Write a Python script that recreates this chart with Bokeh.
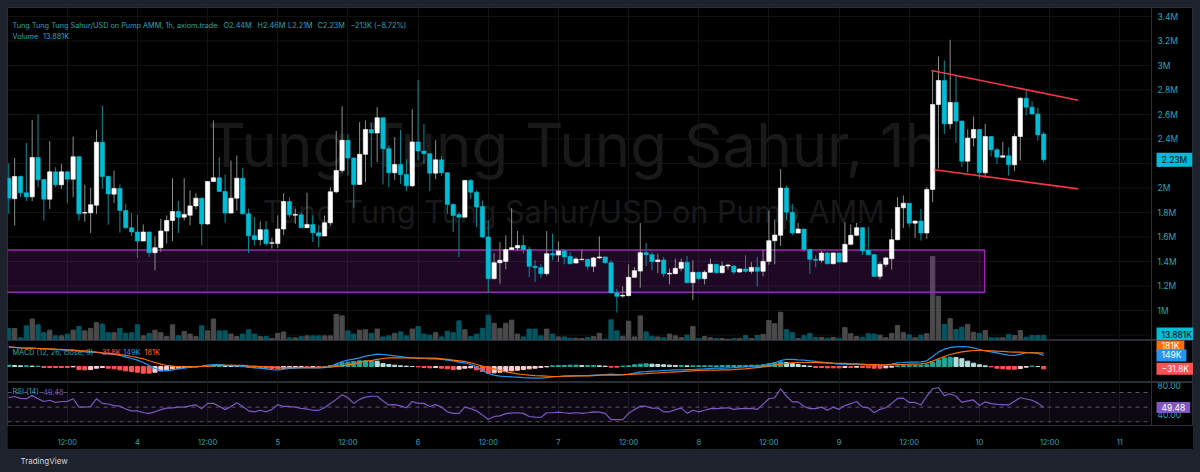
from bokeh.plotting import figure
from bokeh.layouts import column
from bokeh.models import (Range1d, FixedTicker, Label, ColumnDataSource, Span, BoxAnnotation)
from bokeh.core.properties import value
from bokeh.embed import file_html
from bokeh.resources import INLINE

# ---------------- data (hourly candles, prices in millions) ----------------
opens = [2.080, 1.912, 2.094, 1.961, 1.928, 2.249, 2.069, 1.909, 2.132, 2.026,
         2.132, 2.072, 2.255, 1.795, 1.797, 1.860, 2.373, 2.094, 1.950, 1.996,
         1.816, 1.676, 1.641, 1.567, 1.641, 1.472, 1.513, 1.649, 1.735, 1.808,
         1.762, 1.778, 1.854, 1.917, 1.706, 2.053, 2.083, 1.971, 1.795, 1.917,
         2.080, 1.789, 1.611, 1.578, 1.660, 1.548, 1.546, 1.665, 1.890, 1.778,
         1.781, 1.676, 1.703, 1.635, 1.608, 1.716, 1.969, 2.143, 2.389, 2.245,
         2.029, 2.275, 2.478, 2.449, 2.573, 2.321, 2.124, 2.192, 2.110, 2.018,
         2.376, 2.302, 2.280, 2.121, 2.230, 2.124, 1.865, 1.784, 1.762, 2.061,
         1.966, 1.849, 1.600, 1.260, 1.390, 1.401, 1.498, 1.510, 1.531, 1.498,
         1.361, 1.350, 1.301, 1.464, 1.453, 1.486, 1.442, 1.388, 1.415, 1.418,
         1.361, 1.429, 1.437, 1.390, 1.143, 1.118, 1.121, 1.271, 1.322, 1.472,
         1.456, 1.399, 1.412, 1.298, 1.301, 1.344, 1.393, 1.227, 1.312, 1.260,
         1.312, 1.377, 1.309, 1.363, 1.363, 1.314, 1.339, 1.320, 1.352, 1.320,
         1.401, 1.570, 1.614, 1.999, 1.803, 1.633, 1.665, 1.498, 1.418, 1.410,
         1.469, 1.382, 1.469, 1.396, 1.540, 1.614, 1.676, 1.491, 1.456, 1.279,
         1.377, 1.423, 1.578, 1.838, 1.876, 1.713, 1.730, 1.633, 1.988, 2.682,
         2.878, 2.524, 2.698, 2.546, 2.219, 2.408, 2.478, 2.124, 2.420, 2.312,
         2.252, 2.263, 2.190, 2.420, 2.733, 2.660, 2.605, 2.44]
highs = [2.202, 2.246, 2.102, 2.367, 2.556, 2.600, 2.075, 2.384, 2.170, 2.197,
         2.135, 2.421, 2.260, 2.026, 2.002, 2.475, 2.673, 2.102, 2.143, 2.029,
         1.871, 1.797, 1.781, 1.703, 1.643, 1.605, 1.748, 1.776, 2.080, 1.893,
         2.080, 1.980, 1.958, 1.920, 2.056, 2.551, 2.252, 2.110, 2.224, 2.265,
         2.162, 1.830, 1.762, 1.727, 1.730, 1.592, 1.776, 1.958, 1.925, 1.830,
         1.803, 1.961, 1.776, 1.695, 1.776, 2.007, 2.465, 2.668, 2.438, 2.252,
         2.537, 2.551, 2.537, 2.660, 2.575, 2.348, 2.416, 2.475, 2.235, 2.643,
         2.883, 2.524, 2.282, 2.389, 2.260, 2.129, 1.876, 1.803, 2.067, 2.075,
         1.980, 1.898, 1.735, 1.469, 1.559, 1.614, 1.835, 1.649, 1.614, 1.521,
         1.410, 1.377, 1.649, 1.627, 1.565, 1.497, 1.478, 1.437, 1.497, 1.420,
         1.437, 1.605, 1.442, 1.410, 1.178, 1.197, 1.377, 1.355, 1.714, 1.551,
         1.478, 1.464, 1.437, 1.342, 1.423, 1.423, 1.445, 1.410, 1.314, 1.327,
         1.423, 1.380, 1.399, 1.382, 1.369, 1.342, 1.451, 1.396, 1.437, 1.497,
         1.816, 1.743, 2.156, 2.020, 1.871, 1.716, 1.667, 1.505, 1.451, 1.486,
         1.478, 1.478, 1.471, 1.721, 1.703, 1.714, 1.678, 1.682, 1.464, 1.396,
         1.437, 1.668, 1.925, 1.939, 1.878, 1.735, 1.830, 2.007, 2.959, 3.073,
         3.041, 3.210, 2.918, 2.551, 2.478, 2.582, 2.483, 2.524, 2.422, 2.328,
         2.378, 2.333, 2.442, 2.741, 2.796, 2.709, 2.655, 2.46]
lows = [1.789, 1.695, 1.925, 1.893, 1.893, 2.007, 1.735, 1.830, 2.007, 1.991,
        1.876, 1.925, 1.735, 1.724, 1.633, 1.789, 1.993, 1.701, 1.876, 1.635,
        1.668, 1.608, 1.431, 1.565, 1.437, 1.327, 1.478, 1.546, 1.567, 1.633,
        1.735, 1.695, 1.827, 1.531, 1.701, 2.048, 1.966, 1.716, 1.793, 1.816,
        1.787, 1.469, 1.531, 1.531, 1.529, 1.505, 1.510, 1.614, 1.762, 1.708,
        1.673, 1.673, 1.559, 1.518, 1.606, 1.695, 1.958, 2.124, 2.102, 1.838,
        2.027, 2.048, 2.170, 2.211, 2.029, 2.007, 2.067, 2.034, 1.974, 2.007,
        2.224, 2.197, 1.974, 2.072, 2.102, 1.789, 1.641, 1.437, 1.760, 1.912,
        1.682, 1.595, 1.143, 1.254, 1.218, 1.336, 1.497, 1.486, 1.464, 1.273,
        1.233, 1.268, 1.284, 1.410, 1.396, 1.377, 1.377, 1.382, 1.410, 1.333,
        1.314, 1.420, 1.382, 1.140, 0.983, 1.105, 1.116, 1.268, 1.186, 1.363,
        1.327, 1.306, 1.273, 1.213, 1.295, 1.320, 1.224, 1.084, 1.246, 1.213,
        1.309, 1.301, 1.301, 1.333, 1.295, 1.309, 1.309, 1.301, 1.197, 1.279,
        1.374, 1.377, 1.527, 1.740, 1.614, 1.630, 1.478, 1.301, 1.355, 1.390,
        1.377, 1.377, 1.390, 1.390, 1.531, 1.608, 1.453, 1.451, 1.273, 1.254,
        1.355, 1.333, 1.573, 1.675, 1.680, 1.593, 1.571, 1.585, 1.884, 2.158,
        2.442, 2.483, 2.369, 2.170, 2.129, 2.339, 2.075, 2.080, 2.258, 2.197,
        2.244, 2.102, 2.137, 2.224, 2.592, 2.600, 2.387, 2.21]
closes = [1.917, 2.094, 1.961, 1.928, 2.249, 2.067, 1.909, 2.132, 2.026, 2.132,
          2.072, 2.255, 1.789, 1.799, 1.863, 2.373, 2.094, 1.952, 1.996, 1.816,
          1.676, 1.641, 1.567, 1.641, 1.472, 1.513, 1.649, 1.735, 1.808, 1.762,
          1.784, 1.854, 1.917, 1.706, 2.053, 2.083, 1.971, 1.795, 1.917, 2.080,
          1.789, 1.611, 1.578, 1.660, 1.546, 1.554, 1.665, 1.890, 1.781, 1.784,
          1.676, 1.703, 1.635, 1.608, 1.716, 1.969, 2.143, 2.389, 2.245, 2.029,
          2.275, 2.478, 2.449, 2.573, 2.321, 2.124, 2.192, 2.110, 2.018, 2.376,
          2.302, 2.280, 2.121, 2.230, 2.124, 1.865, 1.776, 1.762, 2.061, 1.966,
          1.844, 1.600, 1.260, 1.390, 1.410, 1.498, 1.513, 1.531, 1.498, 1.361,
          1.350, 1.301, 1.464, 1.453, 1.486, 1.437, 1.382, 1.420, 1.418, 1.361,
          1.429, 1.437, 1.390, 1.143, 1.116, 1.124, 1.271, 1.325, 1.472, 1.456,
          1.399, 1.412, 1.301, 1.304, 1.344, 1.393, 1.227, 1.312, 1.260, 1.312,
          1.377, 1.309, 1.363, 1.371, 1.314, 1.339, 1.320, 1.352, 1.320, 1.401,
          1.570, 1.616, 1.999, 1.803, 1.633, 1.665, 1.498, 1.418, 1.410, 1.469,
          1.382, 1.469, 1.396, 1.540, 1.614, 1.676, 1.486, 1.456, 1.279, 1.377,
          1.429, 1.578, 1.841, 1.876, 1.713, 1.730, 1.633, 1.988, 2.682, 2.878,
          2.524, 2.698, 2.546, 2.219, 2.408, 2.478, 2.124, 2.420, 2.312, 2.252,
          2.263, 2.190, 2.420, 2.733, 2.660, 2.605, 2.433, 2.23]
volume_k = [33.6, 33.6, 7.6, 41, 60, 44, 22, 29, 13, 13, 18, 29, 39, 27, 34, 50, 46, 22, 22, 34,
            20, 22, 44, 13, 20, 29, 22, 11, 44, 13, 25, 18, 11, 41, 27, 60, 27, 27, 18, 11,
            18, 30, 18, 11, 11, 6, 20, 24, 7.6, 7.6, 11, 13, 13, 13, 13, 13, 73, 69, 27,
            18, 29, 30, 20, 32, 10, 13, 20, 24, 13, 32, 39, 18, 15, 22, 10, 26, 22, 55, 30,
            11, 18, 34, 71, 48, 34, 48, 57, 18, 10, 32, 32, 13, 32, 18, 10, 10, 6.4, 6.4, 5.6,
            8.4, 11, 20, 3.6, 58, 27, 12, 54, 10, 69, 24, 12, 10, 7.6, 18, 13, 8.4, 15, 39, 5.6,
            11, 7.6, 5.6, 5.6, 3.6, 5.6, 5.6, 14, 5.6, 14, 17, 56, 47, 79, 30, 22, 5.6, 14, 20,
            8.4, 8.4, 6.4, 8.4, 6.4, 36, 19, 11, 9.2, 19, 18, 15, 7.6, 20, 42, 22, 16, 7.6, 15,
            19, 235, 124, 45, 61, 31, 37, 45, 23, 20, 28, 7.6, 7.6, 7.6, 17, 14, 28, 9.2, 14,
            14, 13.881]
macd_k = [266, 257, 252, 248, 248, 243, 239, 234, 230, 225, 221, 221, 207, 198, 194, 189, 180, 171, 162, 149,
          126, 108, 86, 54, 14, -27, -54, -59, -45, -32, -23, -9, 0, 5, 18, 27, 27, 18, 14, 9,
          0, -9, -18, -23, -32, -41, -45, -36, -27, -23, -18, -18, -18, -18, -14, 0, 32, 68, 86, 99,
          117, 140, 153, 167, 162, 153, 144, 135, 122, 117, 113, 108, 104, 104, 95, 86, 77, 59, 50, 27,
          -5, -54, -95, -117, -131, -135, -140, -144, -149, -153, -158, -158, -149, -140, -135, -131, -126, -126, -122, -122,
          -117, -113, -108, -104, -108, -108, -104, -90, -72, -68, -63, -59, -54, -50, -45, -45, -41, -41, -36, -32,
          -27, -23, -23, -18, -14, -9, -5, 0, 5, 14, 32, 50, 81, 95, 95, 90, 86, 77, 68, 59,
          50, 41, 32, 32, 27, 27, 23, 18, 14, 14, 18, 32, 50, 54, 59, 59, 63, 77, 135, 194,
          234, 257, 266, 270, 266, 252, 230, 212, 198, 185, 167, 153, 149, 167, 185, 189, 176, 149]
signal_k = [261, 257, 252, 248, 248, 243, 243, 239, 234, 230, 225, 221, 216, 212, 203, 194, 185, 180, 171, 162,
            149, 135, 122, 104, 77, 54, 32, 14, 5, -5, -5, -5, -5, 0, 5, 9, 14, 14, 14, 14,
            14, 9, 5, 0, -5, -9, -14, -14, -14, -14, -14, -14, -14, -14, -9, -9, 0, 9, 23, 36,
            59, 72, 81, 95, 108, 117, 117, 117, 117, 117, 113, 113, 113, 113, 104, 95, 86, 77, 68, 50,
            27, 5, -14, -32, -54, -72, -86, -99, -108, -117, -122, -126, -131, -135, -135, -131, -131, -126, -126, -126,
            -122, -117, -117, -117, -117, -113, -108, -104, -99, -95, -90, -86, -81, -77, -72, -68, -63, -59, -54, -50,
            -50, -50, -45, -45, -41, -36, -32, -23, -14, -5, 5, 18, 32, 41, 50, 54, 54, 54, 54, 50,
            50, 45, 41, 41, 36, 36, 32, 27, 27, 23, 23, 23, 27, 27, 32, 32, 36, 45, 72, 104,
            135, 162, 180, 198, 207, 216, 216, 216, 212, 207, 203, 198, 194, 194, 189, 185, 185, 181]
hist_k = [18, 14, 9, 9, 5, 5, -14, -14, -14, -14, -14, -5, -41, -45, -41, -23, -14, -23, -32, -45,
          -59, -68, -77, -90, -90, -77, -59, -45, -32, -23, -14, -9, -5, 0, 5, 14, 18, 14, 9, 5,
          0, -9, -14, -18, -23, -27, -27, -23, -18, -14, -9, -9, -5, -5, 0, 14, 32, 50, 59, 68,
          77, 77, 81, 72, 41, 27, 18, 9, 5, 0, -5, -14, -18, -14, -23, -32, -41, -36, -23, -18,
          -45, -68, -90, -86, -77, -68, -59, -50, -41, -32, -23, -14, -5, 9, 14, 14, 18, 18, 14, 14,
          14, 9, 5, -9, -9, 5, 9, 23, 32, 36, 32, 27, 23, 18, 14, 14, 9, 9, 9, 9,
          9, 9, 14, 14, 14, 14, 14, 18, 18, 23, 36, 50, 63, 54, 41, 27, 14, 5, -14, -14,
          -18, -18, -18, -14, -14, -9, -14, -18, -23, -23, -18, -9, 9, 14, 18, 18, 18, 23, 54, 90,
          117, 126, 122, 104, 72, 45, 23, 9, -5, -23, -32, -36, -36, -27, -9, 5, 0, -31.8]
rsi = [62.8, 64.5, 61.9, 61.5, 65.7, 61.5, 57.7, 59.4, 56.4, 57.7, 57.7, 61.5, 50.0, 50.0, 50.9, 61.5, 55.1, 54.3, 52.1, 51.3,
       47.4, 44.9, 44.9, 42.3, 41.5, 43.6, 46.6, 48.7, 49.1, 50.0, 50.0, 51.7, 53.0, 47.9, 55.1, 55.1, 51.3, 46.6, 50.9, 56.0,
       50.9, 44.9, 43.6, 45.7, 43.6, 46.6, 53.4, 50.9, 50.9, 50.0, 48.3, 47.4, 45.7, 45.7, 49.1, 55.1, 60.6, 67.0, 62.8, 55.1,
       60.6, 63.6, 64.9, 64.9, 58.5, 53.0, 53.4, 51.7, 49.1, 57.7, 55.1, 55.1, 50.9, 53.4, 50.0, 43.6, 41.5, 41.5, 50.0, 47.9,
       44.9, 39.4, 33.0, 37.2, 38.1, 41.1, 41.9, 42.3, 41.5, 37.2, 36.4, 36.0, 42.3, 42.3, 43.2, 42.3, 41.5, 42.3, 41.5, 42.3,
       43.6, 43.2, 41.5, 33.0, 33.0, 33.0, 41.5, 46.6, 51.3, 50.9, 48.7, 48.7, 43.6, 43.6, 46.6, 48.7, 41.5, 45.7, 43.6, 45.7,
       47.9, 47.9, 48.7, 49.1, 47.0, 47.9, 47.9, 48.3, 47.0, 53.8, 61.5, 62.8, 75.1, 64.9, 57.2, 57.2, 50.9, 47.9, 47.9, 50.0,
       45.7, 50.0, 47.0, 52.1, 54.7, 57.7, 50.0, 49.1, 42.3, 47.0, 49.1, 55.1, 61.9, 62.3, 56.4, 56.4, 53.0, 64.9, 75.1, 76.8,
       65.7, 68.3, 64.9, 56.4, 58.5, 59.8, 52.1, 57.2, 54.7, 53.8, 53.4, 53.0, 58.1, 62.8, 61.1, 59.4, 55.5, 49.48]

price_ticks = [0.8, 1.0, 1.2, 1.4, 1.6, 1.8, 2.0, 2.2, 2.4, 2.6, 2.8, 3.0, 3.2, 3.4]
time_ticks = [10, 22, 34, 46, 58, 70, 82, 94, 106, 118, 130, 142, 154, 166, 178, 190]
time_labels = ["12:00", "4", "12:00", "5", "12:00", "6", "12:00", "7",
               "12:00", "8", "12:00", "9", "12:00", "10", "12:00", "11"]
rsi_ticks = [40, 80]
rsi_bands = [70, 50, 30]
# support zone and the falling channel (candle index, price in M)
zone_left, zone_right, zone_top, zone_bottom = -5, 166.9, 1.494, 1.149
chan_upper_x, chan_upper_y = [157.8, 182.9], [2.959, 2.717]
chan_lower_x, chan_lower_y = [158.3, 182.9], [2.149, 1.993]

title_text = "Tung Tung Tung Sahur/USD on Pump AMM, 1h, axiom.trade"
ohlc_parts = ["O2.44M", "H2.46M", "L2.21M", "C2.23M", "\u2212213K (\u22128.72%)"]

# ---------------- styling / geometry ----------------
PAGE = "#1e222d"
BG = "#000000"
SEP = "#2a2e39"
GRID = "#121212"
TXT = "#2aa5b9"
WATER = "#191919"
UP, DOWN = "#ffffff", "#00bcd4"
UP_WICK, DOWN_WICK = "#8c8c8c", "#0a8c9c"
VOL_UP, VOL_DOWN = "#4a4a4a", "#045560"
FONT = "Inter"
W = 1186
PX = 5.847                      # pixels per candle
X0 = -0.222                     # left edge of the panes (candle units)
XR_END = X0 + W / PX
SCALE_X = X0 + 1144 / PX        # start of the price-scale column
LABEL_X = SCALE_X + 6 / PX      # tick-label position in the scale column

n = len(closes)
idx = list(range(n))
xr = Range1d(X0, XR_END)

def make_fig(h, yr, bottom=0, xaxis=False):
    f = figure(width=W, height=h, x_range=xr, y_range=yr, output_backend="svg",
               toolbar_location=None, x_axis_location="below" if xaxis else None,
               y_axis_location=None, min_border_left=0, min_border_right=0,
               min_border_top=0, min_border_bottom=bottom)
    f.background_fill_color = BG
    f.border_fill_color = BG
    f.outline_line_color = SEP
    f.outline_line_width = 1
    f.ygrid.visible = False
    f.xgrid.ticker = FixedTicker(ticks=time_ticks)
    f.xgrid.grid_line_color = GRID
    f.add_layout(Span(location=SCALE_X, dimension="height", line_color=SEP, line_width=1))
    return f

def lab(f, text, x, y, color, size="7.3px"):
    f.add_layout(Label(x=x, y=y, x_units="screen", y_units="screen", text=text,
                       text_color=color, text_font=FONT, text_font_size=size,
                       text_baseline="alphabetic"))

def scale_box(f, text, yval, bg, fg, y_range_name="default", y_offset=0, pad=2):
    f.add_layout(Label(x=SCALE_X, y=yval, text=text, text_align="left", text_baseline="middle",
                       x_offset=5, y_offset=y_offset, text_color=fg, text_font=FONT,
                       text_font_size="8.5px", background_fill_color=bg,
                       padding=dict(left=5, right=5, top=pad, bottom=pad),
                       y_range_name=y_range_name))

def scale_labels(f, ticks, labels):
    f.text(x=[LABEL_X] * len(ticks), y=ticks, text=labels, text_font=value(FONT),
           text_font_size=value("8.5px"), text_color=TXT, text_baseline="middle",
           text_align="left")

def hgrid(f, ticks):
    f.segment(x0=[X0] * len(ticks), x1=[SCALE_X] * len(ticks), y0=ticks, y1=ticks,
              line_color=GRID, line_width=1, level="underlay")

# ---------------- price + volume pane ----------------
p = make_fig(333, Range1d(0.7551, 3.4735))
p.extra_y_ranges = {"vol": Range1d(0, 931.6)}
hgrid(p, price_ticks)

up = [c >= o for o, c in zip(opens, closes)]
src = ColumnDataSource(dict(
    x=idx, o=opens, h=highs, l=lows, c=closes,
    top=[max(o, c) for o, c in zip(opens, closes)],
    bot=[min(o, c) for o, c in zip(opens, closes)],
    col=[UP if u else DOWN for u in up],
    wick=[UP_WICK if u else DOWN_WICK for u in up],
    vol=volume_k,
    vcol=[VOL_UP if u else VOL_DOWN for u in up],
))

# watermark
p.add_layout(Label(x=96.6, y=2.355, text="Tung Tung Tung Sahur, 1h", text_align="center",
                   text_baseline="middle", text_color=WATER, text_font=FONT,
                   text_font_size="60px", level="underlay"))
p.add_layout(Label(x=96.6, y=1.808, text="Tung Tung Tung Sahur/USD on Pump AMM", text_align="center",
                   text_baseline="middle", text_color=WATER, text_font=FONT,
                   text_font_size="30.5px", level="underlay"))

p.vbar(x="x", top="vol", bottom=0, width=0.74, color="vcol", source=src, y_range_name="vol")
p.quad(left=[zone_left], right=[zone_right], top=[zone_top], bottom=[zone_bottom],
       fill_color="#9c27b0", fill_alpha=0.2, line_color="#9c27b0", line_width=1.3)
p.segment(x0="x", y0="l", x1="x", y1="h", color="wick", line_width=1, source=src)
p.vbar(x="x", top="top", bottom="bot", width=0.74, fill_color="col", line_color="col",
       line_width=0.6, source=src)
p.line(chan_upper_x, chan_upper_y, line_color="#f23645", line_width=1.6)
p.line(chan_lower_x, chan_lower_y, line_color="#f23645", line_width=1.6)

scale_labels(p, price_ticks, [f"{t:g}M" for t in price_ticks])

lab(p, title_text, 5, 315.5, TXT)
for txt, xx in zip(ohlc_parts, [216, 250, 280.5, 310, 343]):
    lab(p, txt, xx, 315.5, TXT)
lab(p, "Volume", 5, 304.5, TXT)
lab(p, f"{volume_k[-1]:.3f}K", 35.5, 304.5, TXT)

scale_box(p, f"{closes[-1]:.2f}M", closes[-1], "#00bcd4", "#0b0b0b")
scale_box(p, f"{volume_k[-1]:.3f}K", volume_k[-1], "#00bcd4", "#0b0b0b",
          y_range_name="vol", y_offset=1)

# ---------------- MACD pane ----------------
m = make_fig(42, Range1d(-216, 351))
hcols = []
for i, h in enumerate(hist_k):
    prev = hist_k[i - 1] if i > 0 else h
    if h >= 0:
        hcols.append("#26a69a" if h >= prev else "#b2dfdb")
    else:
        hcols.append("#ff5252" if h <= prev else "#ffcdd2")
msrc = ColumnDataSource(dict(x=idx, macd=macd_k, sig=signal_k, hist=hist_k, hc=hcols))
m.vbar(x="x", top="hist", bottom=0, width=0.7, color="hc", source=msrc)
m.line("x", "macd", line_color="#2196f3", line_width=1.2, source=msrc)
m.line("x", "sig", line_color="#ff6d00", line_width=1.2, source=msrc)
lab(m, "MACD (12, 26, close, 9)", 5, 29.7, TXT)
lab(m, f"{hist_k[-1]:.1f}K".replace("-", "\u2212"), 89.7, 29.7, "#ff5252")
lab(m, f"{macd_k[-1]:.0f}K", 115.7, 29.7, "#2196f3")
lab(m, f"{signal_k[-1]:.0f}K", 137, 29.7, "#ff6d00")
scale_box(m, f"{signal_k[-1]:.0f}K", signal_k[-1], "#ff6d00", "#ffffff", y_offset=7, pad=1)
scale_box(m, f"{macd_k[-1]:.0f}K", macd_k[-1], "#2196f3", "#ffffff", pad=1)
scale_box(m, f"{hist_k[-1]:.1f}K".replace("-", "\u2212"), hist_k[-1], "#ff5252", "#ffffff", pad=1)

# ---------------- RSI pane ----------------
r = make_fig(67, Range1d(24.89, 83.67), bottom=21, xaxis=True)
r.add_layout(BoxAnnotation(left=X0, right=SCALE_X, bottom=rsi_bands[2], top=rsi_bands[0],
                           fill_color="#7e57c2", fill_alpha=0.1, line_color=None, level="underlay"))
r.segment(x0=[X0] * 3, x1=[SCALE_X] * 3, y0=rsi_bands, y1=rsi_bands, line_color="#787b86",
          line_alpha=0.7, line_dash="4 4", line_width=1)
r.line(idx, rsi, line_color="#7e57c2", line_width=1.2)
scale_labels(r, rsi_ticks, [f"{t:.2f}" for t in rsi_ticks])
lab(r, "RSI (14)", 5, 33.7, TXT)
lab(r, f"{rsi[-1]:.2f}", 35.7, 33.7, "#7e57c2")
scale_box(r, f"{rsi[-1]:.2f}", rsi[-1], "#7e57c2", "#ffffff", pad=2)
xa = r.xaxis[0]
xa.ticker = FixedTicker(ticks=time_ticks)
xa.major_label_overrides = {t: s for t, s in zip(time_ticks, time_labels)}
xa.axis_line_color = None
xa.major_tick_line_color = None
xa.minor_tick_line_color = None
xa.major_label_text_color = TXT
xa.major_label_text_font = FONT
xa.major_label_text_font_size = "7.5px"
xa.major_label_standoff = 6

# ---------------- footer ----------------
foot = figure(width=W, height=22, x_range=Range1d(0, W), y_range=Range1d(0, 22),
              output_backend="svg", toolbar_location=None, x_axis_location=None,
              y_axis_location=None, min_border=0)
foot.background_fill_color = PAGE
foot.border_fill_color = PAGE
foot.outline_line_color = None
foot.grid.visible = False
foot.add_layout(Label(x=13, y=11, text="TradingView", text_color="#d1d4dc", text_font=FONT,
                      text_font_size="8px", text_baseline="middle"))

layout = column(p, m, r, foot, spacing=0, margin=(7, 0, 0, 7))
html = file_html(layout, INLINE, title="Tung Tung Tung Sahur/USD 1h")
html = html.replace("<head>", "<head>\n<style>html, body { background: #1e222d; }</style>", 1)
open("out.html", "w").write(html)
